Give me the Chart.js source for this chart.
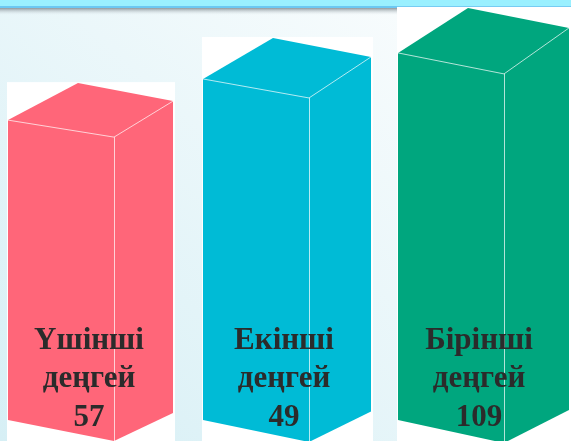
<!DOCTYPE html>
<html>
<head>
<meta charset="utf-8">
<script src="https://cdn.jsdelivr.net/npm/chart.js@4.4.1/dist/chart.umd.min.js"></script>
<style>
  body { margin: 0; background: #fff; }
  #wrap { width: 571px; height: 441px; }
</style>
</head>
<body>
<div id="wrap"><canvas id="levelChart"></canvas></div>
<script>
const levelNames = [['Үшінші', 'деңгей'], ['Екінші', 'деңгей'], ['Бірінші', 'деңгей']];
const levelCounts = [57, 49, 109];
// heights of the boxes as drawn in the picture (not to scale with the counts)
const barHeights = [71.4, 81.2, 87.4];
const barColors = ['#ff6679', '#00bbd6', '#00a67e'];

const backdrop = {
    id: 'backdrop',
    beforeDraw(chart) {
        const { ctx, width, height } = chart;
        ctx.save();
        const bg = ctx.createLinearGradient(0, height, width * 0.7, 0);
        bg.addColorStop(0, '#d6eff5');
        bg.addColorStop(1, '#f8fcfd');
        ctx.fillStyle = bg;
        ctx.fillRect(0, 0, width, height);
        // banner strip along the top
        ctx.fillStyle = '#9af0ff';
        ctx.fillRect(0, 0, width, 6);
        ctx.fillStyle = '#6cc8f2';
        ctx.fillRect(0, 6, width, 2);
        const sh = ctx.createLinearGradient(0, 8, 0, 15);
        sh.addColorStop(0, 'rgba(125,135,140,0.85)');
        sh.addColorStop(1, 'rgba(220,230,235,0)');
        ctx.fillStyle = sh;
        ctx.fillRect(0, 8, width, 7);
        ctx.restore();
    }
};

const boxes = {
    id: 'boxes',
    afterDatasetsDraw(chart) {
        const { ctx, height } = chart;
        const meta = chart.getDatasetMeta(0);
        const n = meta.data.length;
        ctx.save();
        meta.data.forEach((bar, i) => {
            const { x, y, base, width } = bar.getProps(['x', 'y', 'base', 'width'], true);
            const t = i / (n - 1);
            const left = x - width / 2;
            const right = x + width / 2;
            const slope = 17 + 4 * t;
            const sideDx = 59 + 6 * t;
            const sideDy = -(36 + 10 * t);
            const backL = [left + 70, y - (37 + 8 * t)];
            const frontR = [right, y + slope];
            const backR = [right + sideDx, y + slope + sideDy];
            const botR = [right, base + 21 + 2 * t];
            const sideBot = [right + sideDx, botR[1] - (28 + 5 * t)];

            // white picture frame behind each box
            ctx.fillStyle = '#ffffff';
            ctx.fillRect(left - 1, backL[1] - 1, width + sideDx + 3, height);

            ctx.fillStyle = barColors[i];
            ctx.beginPath();
            ctx.moveTo(left, y);
            ctx.lineTo(backL[0], backL[1]);
            ctx.lineTo(backR[0], backR[1]);
            ctx.lineTo(sideBot[0], sideBot[1]);
            ctx.lineTo(botR[0], botR[1]);
            ctx.lineTo(left, base);
            ctx.closePath();
            ctx.fill();

            ctx.strokeStyle = 'rgba(255,255,255,0.7)';
            ctx.lineWidth = 1;
            ctx.beginPath();
            ctx.moveTo(left, y);
            ctx.lineTo(frontR[0], frontR[1]);
            ctx.lineTo(backR[0], backR[1]);
            ctx.moveTo(frontR[0] + 0.5, frontR[1]);
            ctx.lineTo(botR[0] + 0.5, botR[1]);
            ctx.stroke();

            const cx = x + 28;
            ctx.fillStyle = '#2b2b2b';
            ctx.font = 'bold 31px "Liberation Serif", "Times New Roman", serif';
            ctx.textAlign = 'center';
            ctx.textBaseline = 'alphabetic';
            ctx.fillText(levelNames[i][0], cx, base - 71);
            ctx.fillText(levelNames[i][1], cx, base - 33);
            ctx.fillText(String(levelCounts[i]), cx, base + 6);
        });
        ctx.restore();
    }
};

new Chart(document.getElementById('levelChart'), {
    type: 'bar',
    data: {
        labels: levelNames.map(n => n.join(' ')),
        datasets: [{
            data: barHeights,
            backgroundColor: 'rgba(0,0,0,0)',
            barThickness: 106
        }]
    },
    options: {
        responsive: true,
        maintainAspectRatio: false,
        animation: false,
        layout: { padding: { left: 61, right: 120, top: 0, bottom: 21 } },
        scales: {
            x: { display: false, offset: false },
            y: { display: false, min: 0, max: 100 }
        },
        plugins: {
            legend: { display: false },
            tooltip: { enabled: false }
        }
    },
    plugins: [backdrop, boxes]
});
</script>
</body>
</html>
